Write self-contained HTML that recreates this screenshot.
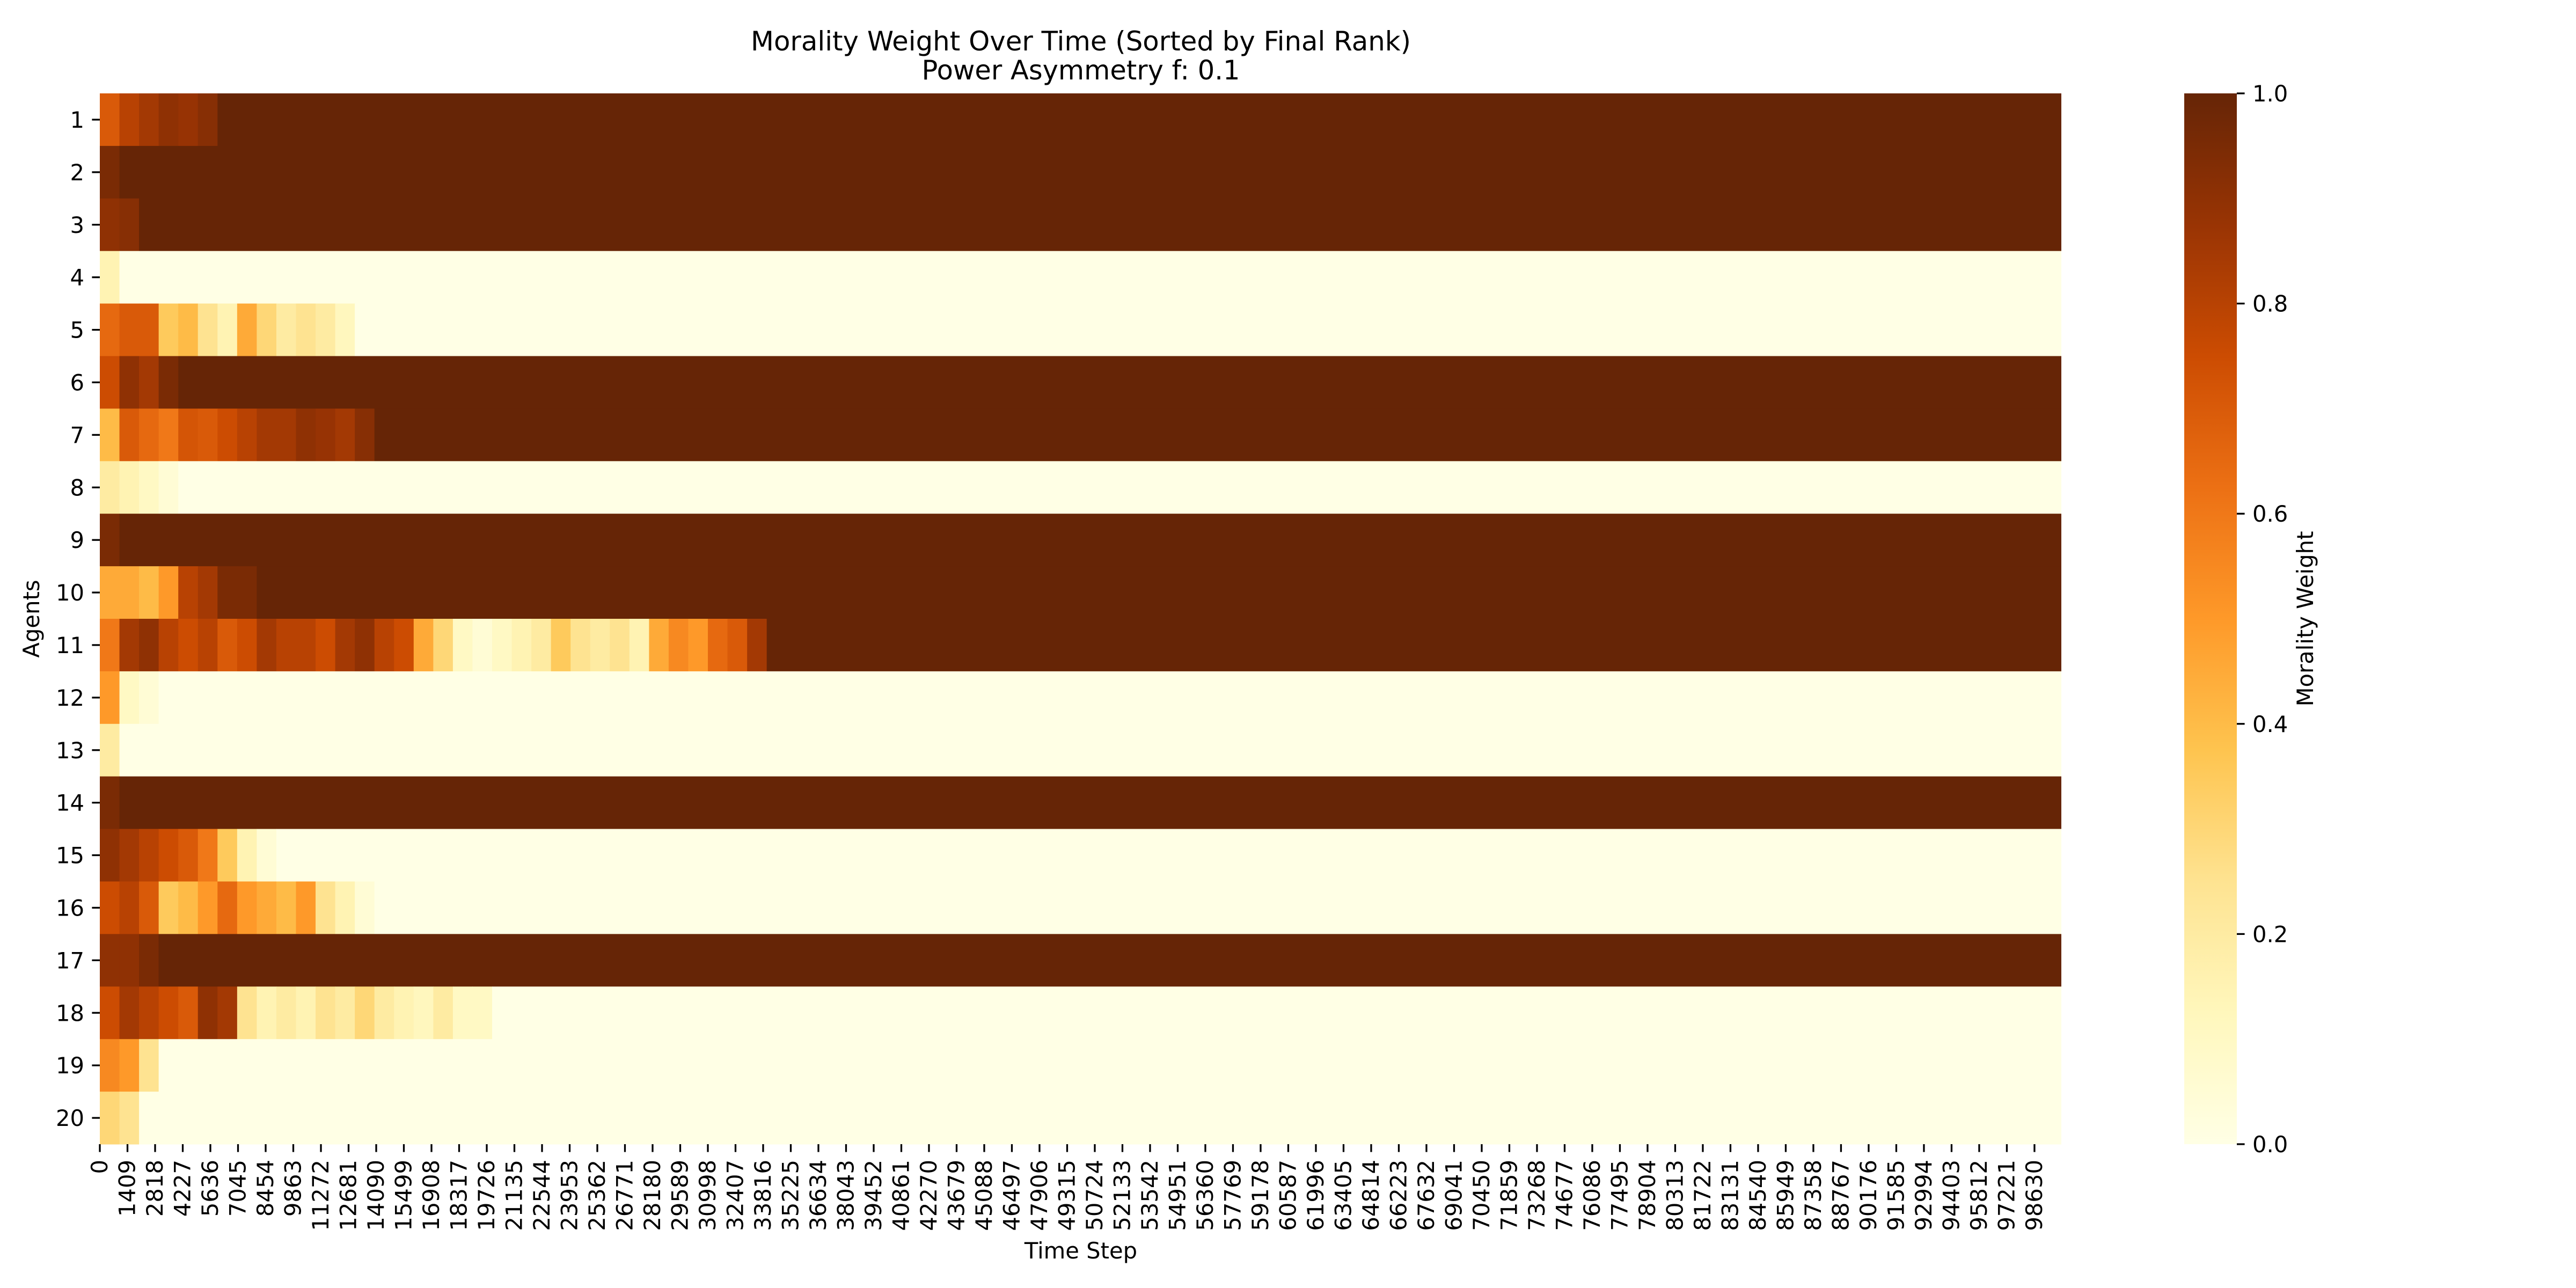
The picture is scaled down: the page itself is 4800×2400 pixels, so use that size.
<!DOCTYPE html>
<html><head><meta charset="utf-8"><style>
html,body{margin:0;padding:0;background:#fff;}
svg{display:block;font-family:"DejaVu Sans","Liberation Sans",sans-serif;}
</style></head><body>
<svg id="chart" width="4800" height="2400" viewBox="0 0 4800 2400" xmlns="http://www.w3.org/2000/svg">
<defs>
<linearGradient id="cbgrad" x1="0" y1="1" x2="0" y2="0">
<stop offset="0" stop-color="#ffffe5"/><stop offset="0.125" stop-color="#fff7bc"/><stop offset="0.25" stop-color="#fee391"/><stop offset="0.375" stop-color="#fec44f"/><stop offset="0.5" stop-color="#fe9929"/><stop offset="0.625" stop-color="#ec7014"/><stop offset="0.75" stop-color="#cc4c02"/><stop offset="0.875" stop-color="#993404"/><stop offset="1" stop-color="#662506"/>
</linearGradient>
</defs>
<text x="2014" y="94" font-size="50" text-anchor="middle" textLength="1230" lengthAdjust="spacingAndGlyphs">Morality Weight Over Time (Sorted by Final Rank)</text>
<text x="2014" y="148" font-size="50" text-anchor="middle" textLength="593" lengthAdjust="spacingAndGlyphs">Power Asymmetry f: 0.1</text>
<g id="cells"></g>
<g id="xaxis"></g>
<g id="yaxis"></g>
<text x="2014" y="2345" font-size="41.7" text-anchor="middle">Time Step</text>
<text transform="translate(73,1153) rotate(-90)" font-size="41.7" text-anchor="middle">Agents</text>
<rect x="4070" y="174" width="98" height="1958" fill="url(#cbgrad)"/>
<g id="cbaxis"></g>
<text transform="translate(4310,1153) rotate(-90)" font-size="41.7" text-anchor="middle">Morality Weight</text>
</svg>
<script>
const agentLabels = ["1","2","3","4","5","6","7","8","9","10","11","12","13","14","15","16","17","18","19","20"];
const totalSteps = 100000;
const binSteps = 1000;
// early-phase values per 1000-step bin, followed by the settled final value
const early01 = [0.7,0.8,0.85,0.9,0.88,0.92];
const early02 = [0.95];
const early03 = [0.9,0.92];
const early04 = [0.15];
const early05 = [0.65,0.7,0.7,0.35,0.4,0.25,0.15,0.45,0.3,0.2,0.25,0.2,0.12];
const early06 = [0.75,0.9,0.85,0.95];
const early07 = [0.4,0.7,0.65,0.6,0.72,0.7,0.75,0.8,0.85,0.85,0.9,0.88,0.85,0.92];
const early08 = [0.2,0.15,0.1,0.05];
const early09 = [0.95];
const early10 = [0.45,0.45,0.4,0.5,0.8,0.85,0.95,0.95];
const early11 = [0.6,0.85,0.9,0.8,0.75,0.8,0.7,0.75,0.85,0.8,0.8,0.75,0.85,0.9,0.8,0.75,0.45,0.3,0.1,0.05,0.1,0.15,0.2,0.35,0.25,0.2,0.25,0.15,0.45,0.55,0.5,0.65,0.7,0.85];
const early12 = [0.5,0.1,0.05];
const early13 = [0.2];
const early14 = [0.95];
const early15 = [0.9,0.85,0.8,0.75,0.7,0.6,0.35,0.15,0.05];
const early16 = [0.75,0.8,0.7,0.35,0.4,0.5,0.65,0.5,0.45,0.4,0.5,0.25,0.15,0.05];
const early17 = [0.9,0.9,0.95];
const early18 = [0.75,0.85,0.8,0.75,0.7,0.9,0.85,0.25,0.15,0.2,0.15,0.25,0.2,0.3,0.2,0.15,0.12,0.2,0.1,0.1];
const early19 = [0.55,0.5,0.25];
const early20 = [0.3,0.25];
const finalValues = [1,1,1,0,0,1,1,0,1,1,1,0,0,1,0,0,1,0,0,0];
const earlyValues = [early01,early02,early03,early04,early05,early06,early07,early08,early09,early10,early11,early12,early13,early14,early15,early16,early17,early18,early19,early20];
const xTickLabels = [0,1409,2818,4227,5636,7045,8454,9863,11272,12681,14090,15499,16908,18317,19726,21135,22544,23953,25362,26771,28180,29589,30998,32407,33816,35225,36634,38043,39452,40861,42270,43679,45088,46497,47906,49315,50724,52133,53542,54951,56360,57769,59178,60587,61996,63405,64814,66223,67632,69041,70450,71859,73268,74677,76086,77495,78904,80313,81722,83131,84540,85949,87358,88767,90176,91585,92994,94403,95812,97221,98630];
const cbTicks = [0,0.2,0.4,0.6,0.8,1.0];

const NS="http://www.w3.org/2000/svg";
const L=186,R=3841,T=174,B=2132;
const xs = s => L + (s/totalSteps)*(R-L);
const rowH = (B-T)/agentLabels.length;
const ys = i => T + i*rowH;
const cbY = v => B - v*(B-T);
const stops=[[0,[255,255,229]],[0.125,[255,247,188]],[0.25,[254,227,145]],[0.375,[254,196,79]],[0.5,[254,153,41]],[0.625,[236,112,20]],[0.75,[204,76,2]],[0.875,[153,52,4]],[1,[102,37,6]]];
function cmap(v){v=Math.max(0,Math.min(1,v));for(let i=1;i<stops.length;i++){if(v<=stops[i][0]){const a=stops[i-1],b=stops[i];const t=(v-a[0])/(b[0]-a[0]);const c=a[1].map((x,k)=>Math.round(x+(b[1][k]-x)*t));return `rgb(${c[0]},${c[1]},${c[2]})`;}}return 'rgb(102,37,6)';}
function mk(tag,attrs,parent){const e=document.createElementNS(NS,tag);for(const k in attrs)e.setAttribute(k,attrs[k]);parent.appendChild(e);return e;}

const cells=document.getElementById('cells');
earlyValues.forEach((vals,i)=>{
  vals.forEach((v,j)=>{
    const r=mk('rect',{x:xs(j*binSteps),y:ys(i),width:xs((j+1)*binSteps)-xs(j*binSteps)+0.6,height:rowH+0.5,fill:cmap(v)},cells);
    
    
  });
  const s=vals.length*binSteps;
  const r=mk('rect',{x:xs(s),y:ys(i),width:xs(totalSteps)-xs(s),height:rowH+0.5,fill:cmap(finalValues[i])},cells);
  
  
});

const xa=document.getElementById('xaxis');
xTickLabels.forEach(v=>{
  const x=xs(v+0.5);
  const t=mk('line',{x1:x,x2:x,y1:B,y2:B+14.6,stroke:'#000','stroke-width':3.3},xa);
  
  
  const tx=mk('text',{transform:`translate(${x+14},${B+29}) rotate(-90)`,'font-size':41.7,'text-anchor':'end'},xa);
  tx.textContent=String(v);
  
  
});
const ya=document.getElementById('yaxis');
agentLabels.forEach((lab,i)=>{
  const y=ys(i)+rowH/2;
  const t=mk('line',{x1:L-14.6,x2:L,y1:y,y2:y,stroke:'#000','stroke-width':3.3},ya);
  
  
  const tx=mk('text',{x:L-29,y:y+15,'font-size':41.7,'text-anchor':'end'},ya);
  tx.textContent=lab;
  
  
});
const ca=document.getElementById('cbaxis');
cbTicks.forEach(v=>{
  const y=cbY(v);
  const t=mk('line',{x1:4168,x2:4182.6,y1:y,y2:y,stroke:'#000','stroke-width':3.3},ca);
  
  
  const tx=mk('text',{x:4197,y:y+15,'font-size':41.7},ca);
  tx.textContent=v.toFixed(1);
  
  
});
</script>
</body></html>
